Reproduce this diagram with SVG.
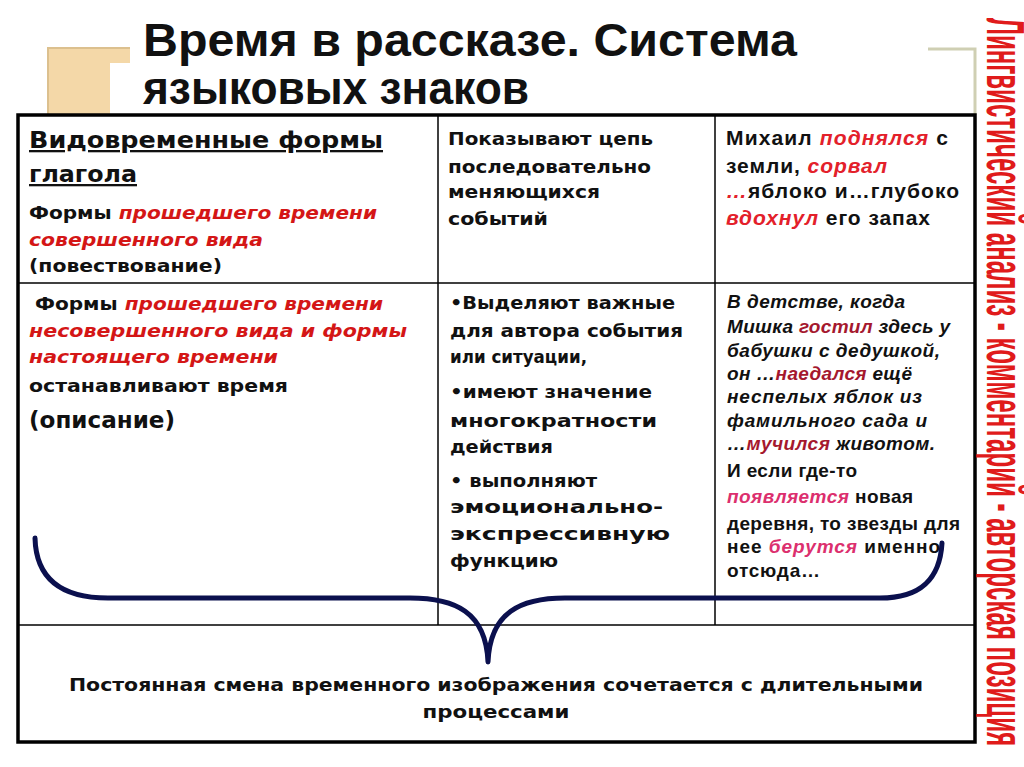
<svg xmlns="http://www.w3.org/2000/svg" width="1024" height="767" viewBox="0 0 1024 767">
<style>
text { font-family: "Liberation Sans", Arial, sans-serif; font-weight: bold; fill: #111; }
.title { font-size: 47px; }
.g { font-family: "DejaVu Sans", "Liberation Sans", sans-serif; }
.h { font-size: 23px; text-decoration: underline; }
.cg { font-size: 18.5px; }
.ar { font-size: 21px; }
.ar2 { font-size: 19px; }
.it { font-style: italic; }
.red { fill: #d41616; font-style: italic; }
.red2 { fill: #e3202a; font-style: italic; }
.dred { fill: #a5182e; font-style: italic; }
.pink { fill: #dc2f6e; font-style: italic; }
.side { font-size: 54px; fill: #e01b1b; }
.grid { stroke: #000; stroke-width: 1.5; fill: none; }
</style>
<rect x="0" y="0" width="1024" height="767" fill="#ffffff"/>

<g id="decor">
  <polygon points="48,48 130,48 130,63 110,63 110,115 48,115" fill="#f4d8a8"/>
  <polyline points="48,115 48,48 130,48" fill="none" stroke="#dcc08e" stroke-width="2"/>
  <polyline points="928,49 975,49 975,115" fill="none" stroke="#cfcfb3" stroke-width="3"/>
</g>

<g id="title">
  <text class="title" x="143" y="56" textLength="654" lengthAdjust="spacingAndGlyphs">Время в рассказе. Система</text>
  <text class="title" x="143" y="104" textLength="386" lengthAdjust="spacingAndGlyphs">языковых знаков</text>
</g>

<g id="table">
  <rect x="18" y="115" width="957" height="627" fill="none" stroke="#000" stroke-width="3.5"/>
  <line class="grid" x1="438" y1="115" x2="438" y2="625"/>
  <line class="grid" x1="715" y1="115" x2="715" y2="625"/>
  <line class="grid" x1="18" y1="283" x2="975" y2="283"/>
  <line class="grid" x1="18" y1="625" x2="975" y2="625"/>
</g>

<g id="cell-1-1">
  <text class="g h" x="29" y="148" textLength="354" lengthAdjust="spacingAndGlyphs">Видовременные формы</text>
  <text class="g h" x="29" y="182" textLength="108" lengthAdjust="spacingAndGlyphs">глагола</text>
  <text class="g cg" x="29" y="219" textLength="348" lengthAdjust="spacingAndGlyphs">Формы <tspan class="red">прошедшего времени</tspan></text>
  <text class="g cg red" x="29" y="246" textLength="234" lengthAdjust="spacingAndGlyphs">совершенного вида</text>
  <text class="g cg" x="29" y="272" textLength="193" lengthAdjust="spacingAndGlyphs">(повествование)</text>
</g>

<g id="cell-1-2">
  <text class="g cg" x="448" y="145" textLength="205" lengthAdjust="spacingAndGlyphs">Показывают цепь</text>
  <text class="g cg" x="448" y="173" textLength="203" lengthAdjust="spacingAndGlyphs">последовательно</text>
  <text class="g cg" x="448" y="198" textLength="152" lengthAdjust="spacingAndGlyphs">меняющихся</text>
  <text class="g cg" x="448" y="225" textLength="100" lengthAdjust="spacingAndGlyphs">событий</text>
</g>

<g id="cell-1-3">
  <text class="ar" x="726" y="145" textLength="222">Михаил <tspan class="red2">поднялся</tspan> с</text>
  <text class="ar" x="726" y="173" textLength="161">земли, <tspan class="red2">сорвал</tspan></text>
  <text class="ar" x="726" y="198" textLength="233"><tspan class="red2">…</tspan>яблоко и…глубоко</text>
  <text class="ar" x="726" y="225" textLength="204"><tspan class="red2">вдохнул</tspan> его запах</text>
</g>

<g id="cell-2-1">
  <text class="g cg" x="35" y="310" textLength="348" lengthAdjust="spacingAndGlyphs">Формы <tspan class="red">прошедшего времени</tspan></text>
  <text class="g cg red" x="29" y="337" textLength="378" lengthAdjust="spacingAndGlyphs">несовершенного вида и формы</text>
  <text class="g cg red" x="29" y="363" textLength="249" lengthAdjust="spacingAndGlyphs">настоящего времени</text>
  <text class="g cg" x="29" y="392" textLength="259" lengthAdjust="spacingAndGlyphs">останавливают время</text>
  <text class="g" x="29" y="428" font-size="23" textLength="146" lengthAdjust="spacingAndGlyphs">(описание)</text>
</g>

<g id="cell-2-2">
  <text class="g cg" x="450" y="309" textLength="225" lengthAdjust="spacingAndGlyphs">•Выделяют важные</text>
  <text class="g cg" x="450" y="337" textLength="233" lengthAdjust="spacingAndGlyphs">для автора события</text>
  <text class="g cg" x="450" y="363" textLength="137" lengthAdjust="spacingAndGlyphs">или ситуации,</text>
  <text class="g cg" x="450" y="398" textLength="202" lengthAdjust="spacingAndGlyphs">•имеют значение</text>
  <text class="g cg" x="450" y="427" textLength="207" lengthAdjust="spacingAndGlyphs">многократности</text>
  <text class="g cg" x="450" y="453" textLength="103" lengthAdjust="spacingAndGlyphs">действия</text>
  <text class="g cg" x="450" y="487" textLength="147" lengthAdjust="spacingAndGlyphs">• выполняют</text>
  <text class="g cg" x="450" y="513" textLength="213" lengthAdjust="spacingAndGlyphs">эмоционально-</text>
  <text class="g cg" x="450" y="540" textLength="220" lengthAdjust="spacingAndGlyphs">экспрессивную</text>
  <text class="g cg" x="450" y="567" textLength="108" lengthAdjust="spacingAndGlyphs">функцию</text>
</g>

<g id="cell-2-3">
  <text class="ar2 it" x="727" y="308" textLength="178">В детстве, когда</text>
  <text class="ar2 it" x="727" y="333" textLength="223">Мишка <tspan class="dred">гостил</tspan> здесь у</text>
  <text class="ar2 it" x="727" y="357" textLength="213">бабушки с дедушкой,</text>
  <text class="ar2 it" x="727" y="380" textLength="185">он …<tspan class="dred">наедался</tspan> ещё</text>
  <text class="ar2 it" x="727" y="403" textLength="195">неспелых яблок из</text>
  <text class="ar2 it" x="727" y="427" textLength="200">фамильного сада и</text>
  <text class="ar2 it" x="727" y="450" textLength="208">…<tspan class="dred">мучился</tspan> животом.</text>
  <text class="ar2" x="727" y="477" textLength="130">И если где-то</text>
  <text class="ar2" x="727" y="503" textLength="186"><tspan class="pink">появляется</tspan> новая</text>
  <text class="ar2" x="727" y="530" textLength="233">деревня, то звезды для</text>
  <text class="ar2" x="727" y="553" textLength="213">нее <tspan class="pink">берутся</tspan> именно</text>
  <text class="ar2" x="727" y="577" textLength="93">отсюда…</text>
</g>

<g id="connectors">
  <path d="M35,538 C36,578 60,598 108,598 L410,598 C455,598 486,612 488,662 C490,612 521,598 565,598 L880,598 C922,598 940,578 942,543" fill="none" stroke="#0b104e" stroke-width="5" stroke-linecap="round" stroke-linejoin="round"/>
</g>

<g id="summary">
  <text class="g cg" x="496" y="691" text-anchor="middle" textLength="854" lengthAdjust="spacingAndGlyphs">Постоянная смена временного изображения сочетается с длительными</text>
  <text class="g cg" x="496" y="718" text-anchor="middle" textLength="147" lengthAdjust="spacingAndGlyphs">процессами</text>
</g>

<g id="side-label">
  <text class="side" transform="translate(987,18) rotate(90)" textLength="728" lengthAdjust="spacingAndGlyphs">Лингвистический анализ - комментарий - авторская позиция</text>
</g>
</svg>
